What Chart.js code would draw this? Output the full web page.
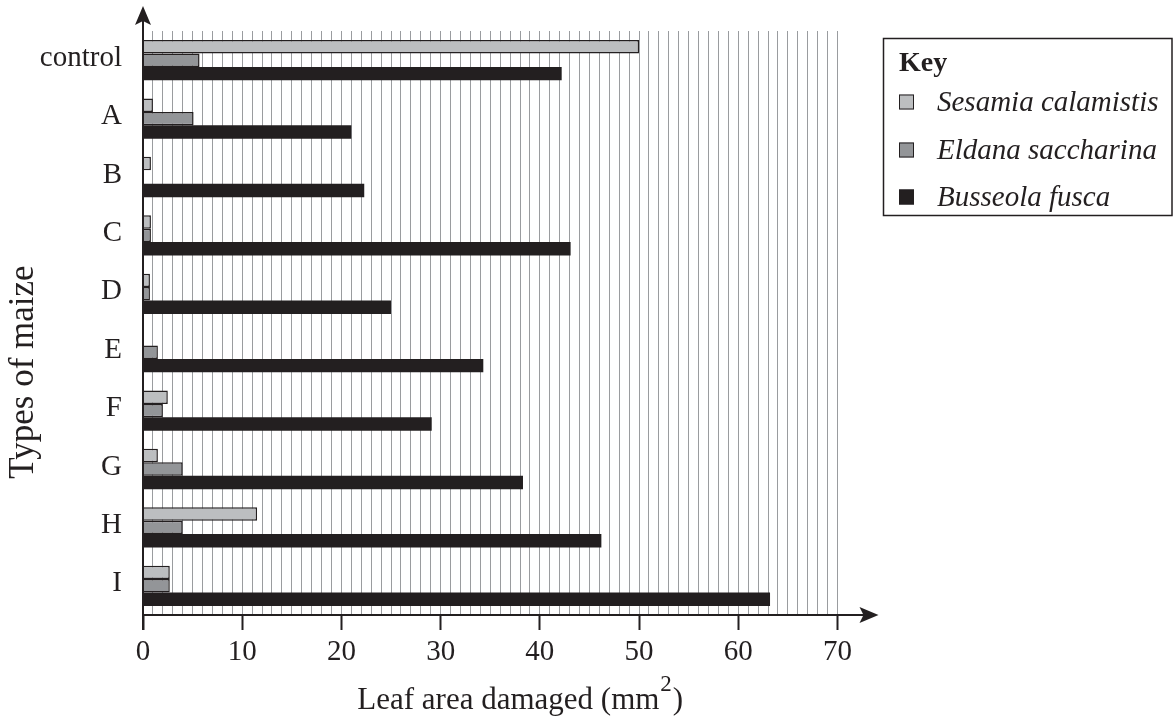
<!DOCTYPE html>
<html><head><meta charset="utf-8">
<script src="https://cdn.jsdelivr.net/npm/chart.js@4"></script>
<style>html,body{margin:0;padding:0;background:#fff}#wrap{width:1173px;height:722px;position:relative}</style>
</head><body><div id="wrap"><canvas id="c" width="1173" height="722"></canvas></div>
<script>
const categories = ['control','A','B','C','D','E','F','G','H','I'];
const sesamia  = [50.0, 1.0, 0.8, 0.8, 0.7, 0,   2.5, 1.5, 11.5, 2.7];
const eldana   = [5.7,  5.1, 0,   0.8, 0.7, 1.5, 2.0, 4.0, 4.0,  2.7];
const busseola = [42.2, 21.0,22.3,43.1,25.0,34.3,29.1,38.3,46.2, 63.2];
const seriesNames = ['Sesamia calamistis','Eldana saccharina','Busseola fusca'];
const seriesColors = ['#bcbec0','#939598','#231f20'];
const xMin = 0, xMax = 70, xMajor = 10, xMinor = 1;
const yTitle = 'Types of maize';
const xTitle = 'Leaf area damaged (mm';
const xTitleSup = '2';
const keyTitle = 'Key';

const INK = '#231f20';
const FONT = "'Liberation Serif', 'Times New Roman', serif";

const overlay = {
  id: 'overlay',
  afterDraw(chart) {
    const ctx = chart.ctx;
    const xs = chart.scales.x, ys = chart.scales.y;
    const x0 = Math.round(xs.getPixelForValue(0));
    const yb = ys.bottom;
    const xe = xs.right;
    ctx.save();
    ctx.strokeStyle = INK; ctx.fillStyle = INK; ctx.lineWidth = 2;
    // y axis
    ctx.beginPath(); ctx.moveTo(x0, yb + 15); ctx.lineTo(x0, 20); ctx.stroke();
    ctx.beginPath(); ctx.moveTo(x0, 6); ctx.lineTo(x0 + 8, 25); ctx.lineTo(x0, 21); ctx.lineTo(x0 - 8, 25); ctx.closePath(); ctx.fill();
    // x axis
    ctx.beginPath(); ctx.moveTo(x0, yb); ctx.lineTo(xe + 28, yb); ctx.stroke();
    const tip = xe + 41;
    ctx.beginPath(); ctx.moveTo(tip, yb); ctx.lineTo(tip - 19, yb - 8); ctx.lineTo(tip - 15, yb); ctx.lineTo(tip - 19, yb + 8); ctx.closePath(); ctx.fill();

    // y title
    ctx.font = '35px ' + FONT; ctx.textAlign = 'center'; ctx.textBaseline = 'middle';
    ctx.save(); ctx.translate(24, 372); ctx.rotate(-Math.PI / 2); ctx.fillText(yTitle, 0, 0); ctx.restore();

    // x title with superscript
    const cx = (xs.left + xs.right) / 2;
    ctx.font = '31px ' + FONT;
    const w1 = ctx.measureText(xTitle).width;
    const wp = ctx.measureText(')').width;
    ctx.font = '23px ' + FONT;
    const w2 = ctx.measureText(xTitleSup).width;
    const total = w1 + w2 + wp + 2;
    let sx = cx - total / 2 + 30;
    const by = 709;
    ctx.textAlign = 'left'; ctx.textBaseline = 'alphabetic';
    ctx.font = '31px ' + FONT; ctx.fillText(xTitle, sx, by);
    ctx.font = '23px ' + FONT; ctx.fillText(xTitleSup, sx + w1 + 1, by - 18);
    ctx.font = '31px ' + FONT; ctx.fillText(')', sx + w1 + w2 + 2, by);

    // key
    ctx.lineWidth = 1.5;
    ctx.strokeRect(883.5, 38.5, 288.5, 177);
    ctx.font = 'bold 28px ' + FONT; ctx.textBaseline = 'middle';
    ctx.fillText(keyTitle, 899, 64);
    const ky = [102, 150, 197];
    seriesNames.forEach((n, i) => {
      ctx.fillStyle = seriesColors[i];
      ctx.fillRect(899, ky[i] - 7.5, 15, 15);
      ctx.strokeStyle = INK; ctx.lineWidth = 1;
      ctx.strokeRect(899.5, ky[i] - 7, 14, 14);
      ctx.fillStyle = INK;
      ctx.font = 'italic 29px ' + FONT;
      ctx.fillText(n, 937, ky[i] + 1);
    });
    ctx.restore();
  }
};

const mkDs = (label, data, i) => ({
  label, data,
  backgroundColor: seriesColors[i],
  borderColor: INK,
  borderWidth: (c) => (c.raw && i < 2 ? 1.5 : 0),
  borderSkipped: 'start',
  categoryPercentage: 0.69,
  barPercentage: 1.0
});

new Chart(document.getElementById('c'), {
  type: 'bar',
  data: {
    labels: categories,
    datasets: [mkDs(seriesNames[0], sesamia, 0), mkDs(seriesNames[1], eldana, 1), mkDs(seriesNames[2], busseola, 2)]
  },
  options: {
    indexAxis: 'y',
    responsive: false,
    animation: false,
    devicePixelRatio: 1,
    layout: { padding: { left: 0, right: 335.5, top: 31, bottom: 0 } },
    plugins: { legend: { display: false }, tooltip: { enabled: false } },
    scales: {
      x: {
        type: 'linear', min: xMin, max: xMax,
        border: { display: false },
        grid: {
          color: (c) => (c.tick && c.tick.value === 0 ? 'rgba(0,0,0,0)' : '#9a9c9f'),
          lineWidth: 1,
          drawTicks: true, tickLength: 15,
          tickColor: (c) => (c.tick && c.tick.value % xMajor === 0 ? INK : 'rgba(0,0,0,0)'),
          tickWidth: 2
        },
        ticks: {
          stepSize: xMinor, autoSkip: false, maxRotation: 0,
          color: INK, font: { family: FONT, size: 29 }, padding: 5,
          callback: (v) => (v % xMajor === 0 ? String(v) : '')
        },
        afterFit: (s) => { s.height = 107; s.paddingLeft = 0; s.paddingRight = 0; }
      },
      y: {
        type: 'category', offset: true,
        border: { display: false },
        grid: { display: false, drawTicks: false },
        ticks: { color: INK, font: { family: FONT, size: 29 }, padding: 21, labelOffset: -2 },
        afterFit: (s) => { s.width = 143; s.paddingTop = 0; s.paddingBottom = 0; }
      }
    }
  },
  plugins: [overlay]
});
</script></body></html>
